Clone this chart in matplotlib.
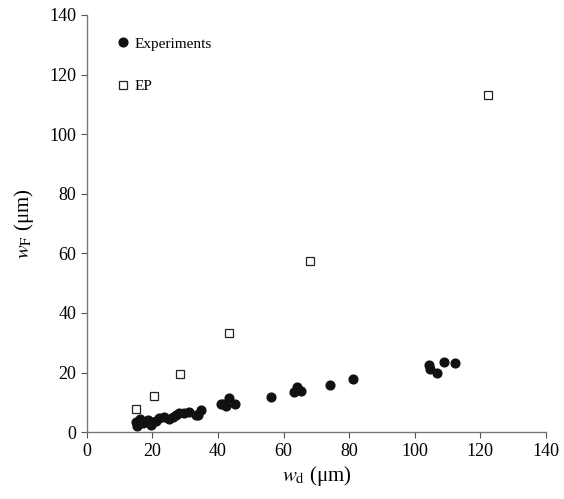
import matplotlib
matplotlib.use('Agg')
import matplotlib.pyplot as plt

plt.rcParams['font.family'] = 'Liberation Serif'
plt.rcParams['mathtext.fontset'] = 'stix'

# Experiments
exp_wd = [15.4, 15.0, 16.1, 17.1, 18.6, 19.6, 20.0, 21.1, 22.1, 23.6, 25.2, 26.2,
          27.2, 28.2, 29.7, 31.2, 33.2, 33.9, 34.9, 40.8, 41.6, 42.3, 43.3, 45.1,
          56.3, 63.3, 64.0, 65.2, 74.0, 81.1, 104.2, 104.6, 106.9, 108.8, 112.4]
exp_wf = [2.1, 3.5, 4.4, 2.9, 4.0, 2.3, 3.3, 3.7, 4.6, 5.1, 4.4, 5.1,
          5.9, 6.3, 6.3, 6.6, 5.7, 5.7, 7.4, 9.4, 9.6, 8.7, 11.3, 9.4,
          11.8, 13.5, 15.2, 13.9, 15.9, 17.9, 22.5, 21.1, 20.0, 23.7, 23.3]

# EP model
ep_wd = [14.9, 20.5, 28.5, 43.2, 67.9, 122.4]
ep_wf = [7.6, 12.2, 19.6, 33.2, 57.6, 113.1]

fig = plt.figure(figsize=(5.64, 4.99), dpi=100)
ax = fig.add_axes([0.154, 0.134, 0.814, 0.836])

ax.plot(exp_wd, exp_wf, 'o', color='#111111', markersize=6.3, label='Experiments')
ax.plot(ep_wd, ep_wf, 's', markerfacecolor='white', markeredgecolor='#222222',
        markeredgewidth=0.9, markersize=5.5, label='EP')

ax.set_xlim(0, 140)
ax.set_ylim(0, 140)
ax.set_xticks(range(0, 141, 20))
ax.set_yticks(range(0, 141, 20))
ax.tick_params(direction='out', length=4, width=0.8, color='#555555', labelsize=13)
for s in ['top', 'right']:
    ax.spines[s].set_visible(False)
for s in ['left', 'bottom']:
    ax.spines[s].set_color('#777777')
    ax.spines[s].set_linewidth(1.0)

ax.set_xlabel(r'$w_\mathrm{d}$ (μm)', fontsize=15, labelpad=3)
ax.set_ylabel(r'$w_\mathrm{F}$ (μm)', fontsize=15, labelpad=10)

ax.legend(loc='upper left', frameon=False, fontsize=11, handletextpad=0.25,
          labelspacing=1.9, handlelength=1.0, borderaxespad=0.0,
          bbox_to_anchor=(0.048, 0.962))

fig.savefig('out.png', dpi=100)
